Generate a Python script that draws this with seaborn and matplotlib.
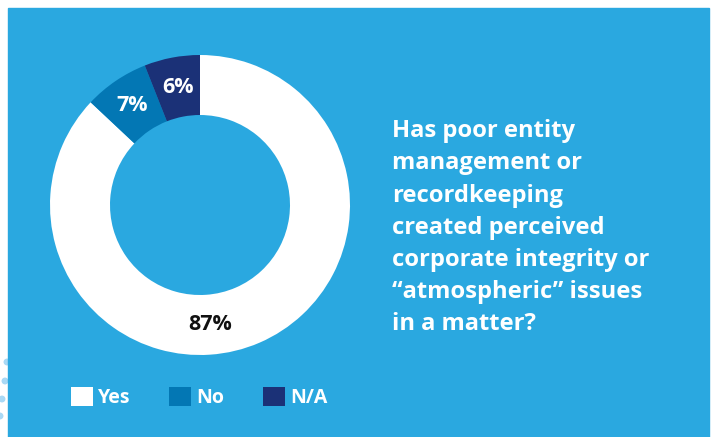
import matplotlib
matplotlib.use("Agg")
import matplotlib.pyplot as plt
from matplotlib.patches import Rectangle, Ellipse
import seaborn as sns

# Survey answers and their shares (percent)
categories = ["Yes", "No", "N/A"]
shares = [87, 7, 6]

question_lines = [
    "Has poor entity",
    "management or",
    "recordkeeping",
    "created perceived",
    "corporate integrity or",
    "\u201catmospheric\u201d issues",
    "in a matter?",
]

PANEL_BLUE = "#2AA8E0"
palette = sns.color_palette(["#FFFFFF", "#0377B4", "#1B3177"])
label_colors = ["#111111", "#FFFFFF", "#FFFFFF"]

sns.set_style("white")
plt.rcParams["font.family"] = ["Open Sans", "DejaVu Sans"]

W, H = 715, 437
fig = plt.figure(figsize=(W / 100, H / 100), dpi=100)
fig.patch.set_facecolor("white")

# decorative dots peeking out from behind the panel
for px, py in [(7, 362), (5, 381), (2, 399), (0, 416)]:
    fig.add_artist(Ellipse((px / W, 1 - py / H), 5.5 / W, 5.5 / H,
                           transform=fig.transFigure, color="#A9D9F5", zorder=0))

# blue panel
fig.add_artist(Rectangle((8 / W, 0), 701 / W, 429 / H, transform=fig.transFigure,
                         color=PANEL_BLUE, zorder=1))

# donut
ax = fig.add_axes([50 / W, 82 / H, 300 / W, 300 / H])
ax.set_zorder(2)
ax.patch.set_alpha(0)
wedges, texts, autotexts = ax.pie(
    shares,
    colors=palette,
    startangle=90,
    counterclock=False,
    radius=1,
    wedgeprops=dict(width=0.4, linewidth=0),
    autopct=lambda p: f"{p:.0f}%",
    pctdistance=0.8,
    textprops=dict(fontsize=15.5, fontweight="bold"),
)
for t, c in zip(autotexts, label_colors):
    t.set_color(c)
# the large slice's label sits at the bottom of the ring
autotexts[0].set_position((0.07, -0.80))
ax.set_xlim(-1, 1)
ax.set_ylim(-1, 1)
ax.set_aspect("equal")
ax.axis("off")

# question text
for i, line in enumerate(question_lines):
    fig.text(392 / W, 1 - (137.3 + 32.1 * i) / H, line, color="white",
             fontsize=17.1, fontweight="bold", ha="left", va="baseline", zorder=3)

# legend
leg = fig.legend(
    wedges, categories,
    loc="lower left", bbox_to_anchor=(71 / W, 29 / H),
    ncol=3, frameon=False, prop=dict(weight="bold", size=14),
    handlelength=1.13, handleheight=1.13, handletextpad=0.26,
    columnspacing=2.0, borderpad=0, borderaxespad=0,
)
for txt in leg.get_texts():
    txt.set_color("white")
leg.set_zorder(3)

fig.savefig("out.png", dpi=100, facecolor=fig.get_facecolor())
